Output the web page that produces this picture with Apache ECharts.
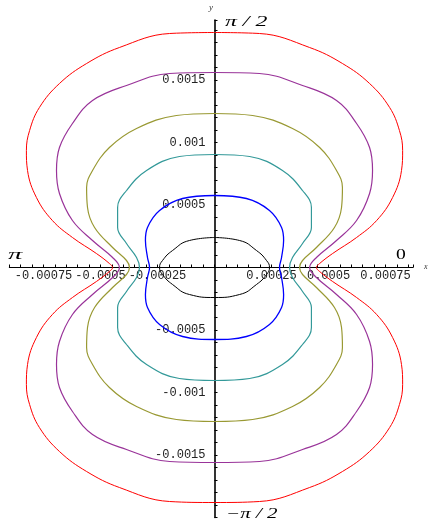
<!DOCTYPE html>
<html>
<head>
<meta charset="utf-8">
<script src="https://cdn.jsdelivr.net/npm/echarts@6/dist/echarts.min.js"></script>
<style>
  html, body { margin: 0; padding: 0; background: #fff; }
  #main { width: 431px; height: 523px; }
</style>
</head>
<body>
<div id="main"></div>
<script>
// curve points, upper right quarter, in units of 1e-4
// each list runs from the top (on the y axis) down to the x axis
var UNIT = 1e-4;
var blackX  = [0, 1.10, 1.84, 2.28, 2.41];
var blackY  = [2.40, 2.16, 1.36, 0.56, 0];
var blueX   = [0, 1.40, 2.41, 2.94, 3.03, 2.94, 2.85];
var blueY   = [5.76, 5.52, 4.56, 3.20, 2.16, 0.80, 0];
var tealX   = [0, 1.54, 2.98, 3.86, 4.25, 4.25, 3.86, 3.42, 3.29];
var tealY   = [9.04, 8.88, 7.76, 6.16, 4.80, 3.20, 1.92, 0.80, 0];
var oliveX  = [0, 1.67, 3.42, 4.61, 5.35, 5.61, 5.57, 5.26, 4.47, 3.86, 3.73];
var oliveY  = [12.32, 12.16, 11.12, 9.60, 7.76, 6.40, 4.80, 3.20, 1.60, 0.56, 0];
var purpleX = [0, 1.97, 3.86, 5.35, 6.23, 6.80, 6.93, 6.80, 6.23, 5.35, 4.47, 4.17];
var purpleY = [15.60, 15.52, 14.56, 13.36, 11.52, 9.60, 7.76, 5.92, 3.76, 2.16, 0.80, 0];
var redX    = [0, 1.97, 4.17, 5.61, 6.80, 7.68, 8.11, 8.25, 8.20, 7.81, 7.11, 6.23, 5.18, 4.61, 4.47];
var redY    = [18.80, 18.72, 17.60, 16.32, 14.72, 12.80, 10.96, 9.36, 7.76, 5.60, 3.76, 2.40, 1.12, 0.32, 0];

var xTickValues = [-0.00075, -0.0005, -0.00025, 0.00025, 0.0005, 0.00075];
var xTickLabels = ['-0.00075', '-0.0005', '-0.00025', '0.00025', '0.0005', '0.00075'];
var yTickValues = [-0.0015, -0.001, -0.0005, 0.0005, 0.001, 0.0015];
var yTickLabels = ['-0.0015', '-0.001', '-0.0005', '0.0005', '0.001', '0.0015'];

// plot box (pixels) and where the origin sits inside it
var W = 431, H = 523;
var gridLeft = 9.3, gridRight = 18.1, gridTop = 20, gridBottom = 5.5;
var originX = 214.5, originY = 267.5;

// the curves are symmetric about both axes: mirror the quarter into a closed loop
function closedLoop(xs, ys) {
    var n = xs.length, pts = [], i;
    for (i = 0; i < n; i++) pts.push([xs[i], ys[i]]);
    for (i = n - 2; i >= 0; i--) pts.push([xs[i], -ys[i]]);
    for (i = 1; i < n; i++) pts.push([-xs[i], -ys[i]]);
    for (i = n - 2; i >= 0; i--) pts.push([-xs[i], ys[i]]);
    return pts.map(function (p) { return [p[0] * UNIT, p[1] * UNIT]; });
}

function tickFormatter(values, labels) {
    return function (v) {
        for (var i = 0; i < values.length; i++) {
            if (Math.abs(v - values[i]) < 1e-9) return labels[i];
        }
        return '';
    };
}

function curve(name, xs, ys, color, width, smooth) {
    return {
        name: name,
        type: 'line',
        data: closedLoop(xs, ys),
        showSymbol: false,
        smooth: smooth,
        lineStyle: { color: color, width: width },
        silent: true
    };
}

var chart = echarts.init(document.getElementById('main'));

var option = {
    backgroundColor: '#fff',
    animation: false,
    grid: {
        left: gridLeft, right: gridRight, top: gridTop, bottom: gridBottom,
        containLabel: false,
        outerBoundsMode: 'none'
    },
    xAxis: {
        type: 'value',
        min: -0.0009,
        max: 0.00087,
        interval: 0.00005,
        // move the whole axis (line, ticks, labels) up to y = 0
        offset: -(H - gridBottom - originY),
        axisLine: { onZero: false, lineStyle: { color: '#000', width: 1 } },
        axisTick: { inside: true, length: 3, lineStyle: { color: '#000' } },
        axisLabel: {
            margin: 2,
            fontFamily: 'Liberation Mono',
            fontSize: 12,
            color: '#222',
            formatter: tickFormatter(xTickValues, xTickLabels)
        },
        splitLine: { show: false }
    },
    yAxis: {
        type: 'value',
        min: -0.002,
        max: 0.00198,
        interval: 0.0001,
        offset: -(originX - gridLeft),
        axisLine: { onZero: false, lineStyle: { color: '#000', width: 1.6 } },
        axisTick: { inside: true, length: 3, lineStyle: { color: '#000' } },
        axisLabel: {
            margin: 9,
            fontFamily: 'Liberation Mono',
            fontSize: 12,
            color: '#222',
            formatter: tickFormatter(yTickValues, yTickLabels)
        },
        splitLine: { show: false }
    },
    series: [
        curve('black', blackX, blackY, '#000000', 1, 0.5),
        curve('blue', blueX, blueY, '#0000ff', 1.3, 0.4),
        curve('teal', tealX, tealY, '#339999', 1.2, 0.4),
        curve('olive', oliveX, oliveY, '#999933', 1.2, 0.4),
        curve('purple', purpleX, purpleY, '#993399', 1.2, 0.4),
        curve('red', redX, redY, '#ff0000', 1, 0.4)
    ],
    graphic: [
        { type: 'text', x: 225, y: 15, scaleX: 1.7, style: { text: 'π / 2', font: 'italic 14px "Liberation Serif"', fill: '#000', textAlign: 'left', textVerticalAlign: 'top' } },
        { type: 'text', x: 226, y: 507, scaleX: 1.5, style: { text: '−π / 2', font: 'italic 14px "Liberation Serif"', fill: '#000', textAlign: 'left', textVerticalAlign: 'top' } },
        { type: 'text', x: 8, y: 248, scaleX: 1.9, style: { text: 'π', font: 'italic 15px "Liberation Serif"', fill: '#000', textAlign: 'left', textVerticalAlign: 'top' } },
        { type: 'text', x: 396, y: 248, scaleX: 1.4, style: { text: '0', font: '14px "Liberation Serif"', fill: '#000', textAlign: 'left', textVerticalAlign: 'top' } },
        { type: 'text', x: 424, y: 263, style: { text: 'x', font: 'italic 8px "Liberation Serif"', fill: '#333', textAlign: 'left', textVerticalAlign: 'top' } },
        { type: 'text', x: 209, y: 3, style: { text: 'y', font: 'italic 9px "Liberation Serif"', fill: '#333', textAlign: 'left', textVerticalAlign: 'top' } }
    ]
};

chart.setOption(option);
</script>
</body>
</html>
